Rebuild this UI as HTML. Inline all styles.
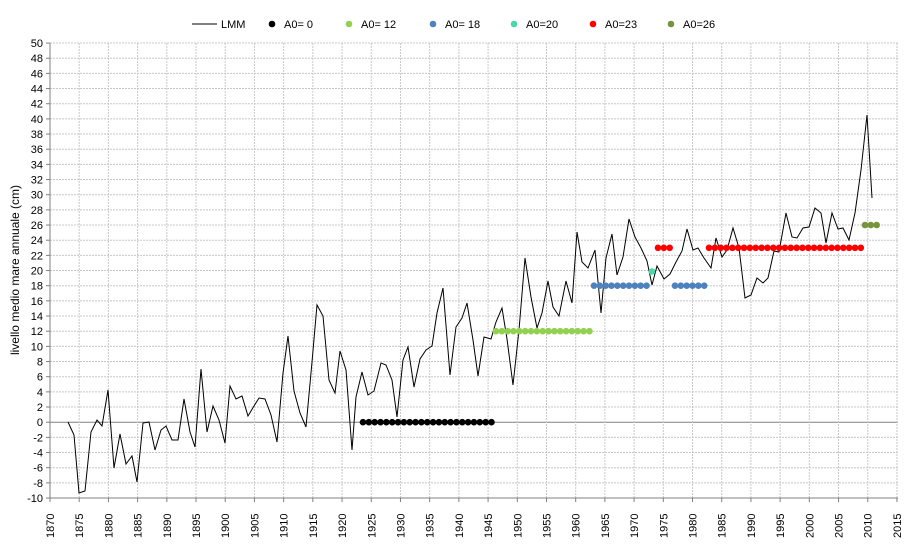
<!DOCTYPE html><html><head><meta charset="utf-8"><style>body{margin:0;background:#fff}svg{display:block;font-family:"Liberation Sans",sans-serif;font-size:11px}</style></head><body>
<svg id="s" width="904" height="545" xmlns="http://www.w3.org/2000/svg"></svg>
<script>
var s=document.getElementById('s'),h='';
var X=function(y){return 50+(y-1870)*5.841},Y=function(v){return 422.2-v*7.583};
for(var v=-10;v<=50;v+=2){var y=Y(v);h+='<line x1="50" x2="898" y1="'+y+'" y2="'+y+'" stroke="'+(v==0?'#808080':'#c8c8c8')+'" '+(v==0?'':'stroke-dasharray="2,1"')+'/>';h+='<line x1="46" x2="50" y1="'+y+'" y2="'+y+'" stroke="#808080"/>';h+='<text x="43" y="'+(y+4)+'" text-anchor="end">'+v+'</text>';}
for(var yr=1870;yr<=2015;yr+=5){var x=X(yr);if(yr>1870)h+='<line x1="'+x+'" x2="'+x+'" y1="43" y2="498" stroke="#c8c8c8" stroke-dasharray="2,1"/>';h+='<line x1="'+x+'" x2="'+x+'" y1="498" y2="502" stroke="#808080"/>';h+='<text transform="translate('+(x+4)+',538) rotate(-90)">'+yr+'</text>';}
h+='<line x1="50" x2="50" y1="43" y2="498" stroke="#808080"/><line x1="50" x2="898" y1="498" y2="498" stroke="#808080"/>';
h+='<text transform="translate(19,270) rotate(-90)" text-anchor="middle" font-size="12">livello medio mare annuale (cm)</text>';
var p="68,422 74,435 79,493 85,491 91,432 97,420 102,426 108,390 114,468 120,434 126,464 132,456 137,482 143,423 149,422 155,450 161,430 166,426 172,440 178,440 184,399 190,432 195,447 201,369 207,432 213,406 219,420 225,443 230,386 236,399 242,396 248,416 254,406 259,398 265,399 271,415 277,442 283,373 288,336 294,391 300,413 306,427 312,362 317,305 323,316 329,380 335,393 340,351 346,370 352,450 356,397 362,372 368,395 374,391 381,363 386,365 392,380 397,417 403,360 408,347 414,387 420,359 426,350 432,346 437,313 443,288 450,375 456,327 462,318 467,303 473,340 478,376 484,337 491,339 496,322 502,308 507,339 513,385 519,330 525,258 531,297 537,328 542,313 548,281 553,307 559,316 566,281 572,303 577,232 582,262 588,268 595,250 601,313 606,258 612,234 617,275 623,257 629,219 635,237 641,248 647,261 652,285 657,266 664,279 670,274 676,262 682,251 687,229 693,250 698,248 704,258 711,268 716,238 722,257 727,250 733,228 739,248 745,298 751,295 757,278 763,283 768,278 774,251 779,252 786,213 792,237 797,238 803,228 809,227 815,208 821,213 826,243 832,213 838,229 843,228 849,240 855,213 861,170 867,115 872,198";
h+='<polyline points="'+p+'" fill="none" stroke="#000" stroke-width="1"/>';
function dots(x0,n,y,c){for(var i=0;i<n;i++)h+='<circle cx="'+(x0+i*5.84)+'" cy="'+y+'" r="3.3" fill="'+c+'"/>';}
dots(363,23,422.2,'#000');dots(496,17,331.2,'#92d050');dots(594,10,285.7,'#4f81bd');dots(675,6,285.7,'#4f81bd');dots(652,1,271.5,'#4bd8a8');dots(658,3,247.8,'#ff0000');dots(709,27,247.8,'#ff0000');dots(865,3,225,'#77933c');
h+='<line x1="192" x2="217" y1="24" y2="24" stroke="#000"/><text x="221" y="28">LMM</text>';
var L=[[272,'#000','A0= 0'],[349,'#92d050','A0= 12'],[433,'#4f81bd','A0= 18'],[514,'#4bd8a8','A0=20'],[593,'#ff0000','A0=23'],[671,'#77933c','A0=26']];
L.forEach(function(l){h+='<circle cx="'+l[0]+'" cy="24" r="3.3" fill="'+l[1]+'"/><text x="'+(l[0]+12)+'" y="28">'+l[2]+'</text>';});
s.innerHTML=h;
</script></body></html>
